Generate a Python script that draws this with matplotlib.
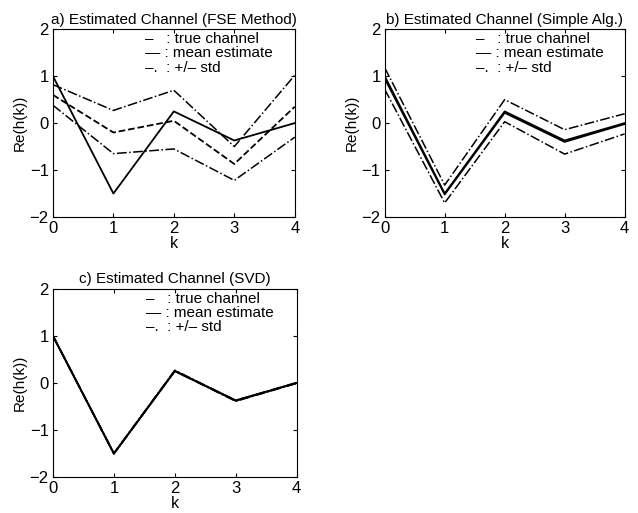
import matplotlib
matplotlib.use('Agg')
import matplotlib.pyplot as plt
import numpy as np

plt.rcParams['font.family'] = ['Liberation Sans', 'DejaVu Sans']

k = [0, 1, 2, 3, 4]
true_h = [1.0, -1.5, 0.25, -0.37, 0.0]

# a) FSE method
fse_mean = [0.6, -0.2, 0.05, -0.87, 0.35]
fse_up = [0.82, 0.27, 0.7, -0.5, 1.02]
fse_lo = [0.38, -0.65, -0.55, -1.22, -0.3]

# b) simple algorithm
simp_mean = [0.95, -1.52, 0.22, -0.4, -0.02]
simp_up = [1.18, -1.32, 0.5, -0.14, 0.2]
simp_lo = [0.72, -1.7, 0.03, -0.66, -0.23]

# c) SVD
svd_mean = [1.0, -1.5, 0.26, -0.38, 0.0]
svd_up = [1.01, -1.49, 0.27, -0.37, 0.01]
svd_lo = [0.99, -1.51, 0.25, -0.39, -0.01]

titles = ['a) Estimated Channel (FSE Method)',
          'b) Estimated Channel (Simple Alg.)',
          'c) Estimated Channel (SVD)']
legend_lines = ['\u2013   : true channel', '\u2014 : mean estimate', '\u2013.  : +/\u2013 std']


def panel(ax, title, mean, up, lo, mean_style):
    ax.plot(k, true_h, 'k-', lw=1.3)
    ax.plot(k, mean, color='k', ls=mean_style, lw=1.3)
    ax.plot(k, up, 'k-.', lw=1.1)
    ax.plot(k, lo, 'k-.', lw=1.1)
    ax.set_xlim(0, 4)
    ax.set_ylim(-2, 2)
    ax.set_xticks(k)
    ax.set_yticks([-2, -1, 0, 1, 2])
    ax.set_yticklabels(['\u22122', '\u22121', '0', '1', '2'])
    ax.tick_params(direction='in', top=True, right=True, labelsize=12, length=3, pad=3)
    ax.set_xlabel('k', fontsize=11.5, labelpad=0)
    ax.set_ylabel('Re(h(k))', fontsize=11, labelpad=2)
    ax.set_title(title, fontsize=11, pad=4)
    for i, t in enumerate(legend_lines):
        ax.text(0.38, 0.985 - i * 0.076, t, transform=ax.transAxes, fontsize=11, va='top')


fig = plt.figure(figsize=(6.38, 5.13), dpi=100)
ax1 = fig.add_axes([0.083, 0.577, 0.379, 0.366])
ax2 = fig.add_axes([0.603, 0.577, 0.376, 0.366])
ax3 = fig.add_axes([0.083, 0.070, 0.382, 0.367])

panel(ax1, titles[0], fse_mean, fse_up, fse_lo, '--')
panel(ax2, titles[1], simp_mean, simp_up, simp_lo, '-')
panel(ax3, titles[2], svd_mean, svd_up, svd_lo, '-')

fig.savefig('out.png', dpi=100)
